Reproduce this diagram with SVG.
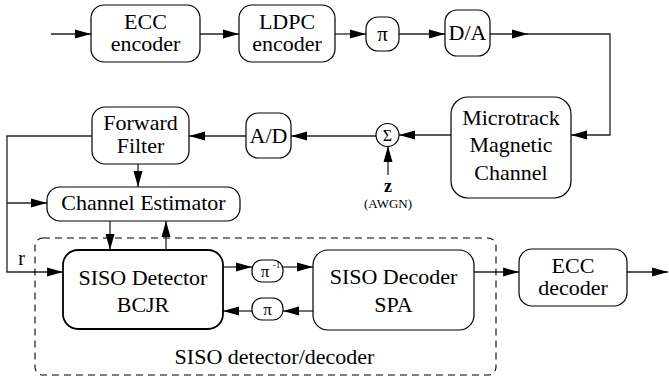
<svg xmlns="http://www.w3.org/2000/svg" width="669" height="379" viewBox="0 0 669 379">
<defs>
<marker id="ah" markerWidth="16" markerHeight="10" refX="16" refY="5" orient="auto" markerUnits="userSpaceOnUse">
<path d="M0,0.5 L16,5 L0,9.5 z" fill="#000"/>
</marker>
</defs>
<rect x="0" y="0" width="669" height="379" fill="#fff"/>
<g id="connectors" fill="none" stroke="#222" stroke-width="1.3">
<path d="M51,34 H91" marker-end="url(#ah)"/>
<path d="M200,34 H239" marker-end="url(#ah)"/>
<path d="M335,34 H366" marker-end="url(#ah)"/>
<path d="M399,34 H445" marker-end="url(#ah)"/>
<path d="M490,34 H528" marker-end="url(#ah)"/>
<path d="M527,34 H610 V135 H571" marker-end="url(#ah)"/>
<path d="M451,135 H399" marker-end="url(#ah)"/>
<path d="M388,175 V146" marker-end="url(#ah)"/>
<path d="M376,136 H291" marker-end="url(#ah)"/>
<path d="M246,136 H189" marker-end="url(#ah)"/>
<path d="M92,136 H7 V272 H63" marker-end="url(#ah)"/>
<path d="M7,203 H47" marker-end="url(#ah)"/>
<path d="M138,164 V187" marker-end="url(#ah)"/>
<path d="M110,221 V250" marker-end="url(#ah)"/>
<path d="M166,250 V221" marker-end="url(#ah)"/>
<path d="M223,267 H252" marker-end="url(#ah)"/>
<path d="M283,267 H313" marker-end="url(#ah)"/>
<path d="M313,311 H283" marker-end="url(#ah)"/>
<path d="M252,311 H223" marker-end="url(#ah)"/>
<path d="M474,272 H519" marker-end="url(#ah)"/>
<path d="M627,272 H668" marker-end="url(#ah)"/>
</g>
<g id="siso-group">
<rect x="35" y="238" width="461" height="137" rx="8" fill="none" stroke="#000" stroke-width="1.1" stroke-dasharray="7,5"/>
<text x="274.5" y="364" style="font-family:'Liberation Serif',serif;font-size:22px" text-anchor="middle">SISO detector/decoder</text>
</g>
<g id="ecc-encoder">
<rect x="91" y="5" width="109" height="57" rx="13" fill="#fff" stroke="#000" stroke-width="1.2"/>
<text x="145.5" y="28.5" style="font-family:'Liberation Serif',serif;font-size:22px" text-anchor="middle">ECC</text>
<text x="145.5" y="51" style="font-family:'Liberation Serif',serif;font-size:22px" text-anchor="middle">encoder</text>
</g>
<g id="ldpc-encoder">
<rect x="239" y="5" width="96" height="57" rx="13" fill="#fff" stroke="#000" stroke-width="1.2"/>
<text x="287" y="28.5" style="font-family:'Liberation Serif',serif;font-size:22px" text-anchor="middle">LDPC</text>
<text x="287" y="51" style="font-family:'Liberation Serif',serif;font-size:22px" text-anchor="middle">encoder</text>
</g>
<g id="interleaver-top">
<rect x="366" y="17" width="33" height="34" rx="12" fill="#fff" stroke="#000" stroke-width="1.2"/>
<text x="382.5" y="41" style="font-family:'Liberation Serif',serif;font-size:21px" text-anchor="middle">π</text>
</g>
<g id="da">
<rect x="445" y="10" width="45" height="46" rx="12" fill="#fff" stroke="#000" stroke-width="1.2"/>
<text x="467.5" y="40" style="font-family:'Liberation Serif',serif;font-size:22px" text-anchor="middle">D/A</text>
</g>
<g id="channel">
<rect x="451" y="97" width="120" height="101" rx="17" fill="#fff" stroke="#000" stroke-width="1.2"/>
<text x="511" y="125" style="font-family:'Liberation Serif',serif;font-size:22px" text-anchor="middle">Microtrack</text>
<text x="511" y="152" style="font-family:'Liberation Serif',serif;font-size:22px" text-anchor="middle">Magnetic</text>
<text x="511" y="180" style="font-family:'Liberation Serif',serif;font-size:22px" text-anchor="middle">Channel</text>
</g>
<g id="sum">
<circle cx="387.5" cy="135" r="11.5" fill="#fff" stroke="#000" stroke-width="1.2"/>
<text x="387.5" y="141" style="font-family:'Liberation Serif',serif;font-size:16px" text-anchor="middle">Σ</text>
</g>
<g id="noise">
<text x="388" y="192" style="font-family:'Liberation Serif',serif;font-size:18px;font-weight:bold" text-anchor="middle">z</text>
<text x="388" y="208" style="font-family:'Liberation Serif',serif;font-size:13px" text-anchor="middle">(AWGN)</text>
</g>
<g id="ad">
<rect x="246" y="113" width="45" height="45" rx="12" fill="#fff" stroke="#000" stroke-width="1.2"/>
<text x="268.5" y="143" style="font-family:'Liberation Serif',serif;font-size:22px" text-anchor="middle">A/D</text>
</g>
<g id="forward-filter">
<rect x="92" y="107" width="97" height="57" rx="13" fill="#fff" stroke="#000" stroke-width="1.2"/>
<text x="140.5" y="129.5" style="font-family:'Liberation Serif',serif;font-size:22px" text-anchor="middle">Forward</text>
<text x="140.5" y="152.5" style="font-family:'Liberation Serif',serif;font-size:22px" text-anchor="middle">Filter</text>
</g>
<g id="channel-estimator">
<rect x="47" y="187" width="193" height="34" rx="13" fill="#fff" stroke="#000" stroke-width="1.2"/>
<text x="143.5" y="210" style="font-family:'Liberation Serif',serif;font-size:22px" text-anchor="middle">Channel Estimator</text>
</g>
<g id="r-label">
<text x="21.5" y="265" style="font-family:'Liberation Serif',serif;font-size:20px" text-anchor="middle">r</text>
</g>
<g id="siso-detector">
<rect x="63" y="250" width="160" height="79" rx="15" fill="#fff" stroke="#000" stroke-width="1.8"/>
<text x="143" y="285" style="font-family:'Liberation Serif',serif;font-size:22px" text-anchor="middle">SISO Detector</text>
<text x="143" y="312" style="font-family:'Liberation Serif',serif;font-size:22px" text-anchor="middle">BCJR</text>
</g>
<g id="deinterleaver">
<rect x="252" y="260" width="31" height="22" rx="10" fill="#fff" stroke="#000" stroke-width="1.2"/>
<text x="265" y="277" style="font-family:'Liberation Serif',serif;font-size:17px" text-anchor="middle">π</text>
<text x="276.5" y="268" style="font-family:'Liberation Serif',serif;font-size:9px" text-anchor="middle">-1</text>
</g>
<g id="interleaver-bottom">
<rect x="252" y="298" width="31" height="22" rx="10" fill="#fff" stroke="#000" stroke-width="1.2"/>
<text x="267.5" y="315" style="font-family:'Liberation Serif',serif;font-size:17px" text-anchor="middle">π</text>
</g>
<g id="siso-decoder">
<rect x="313" y="250" width="161" height="80" rx="15" fill="#fff" stroke="#000" stroke-width="1.2"/>
<text x="393.5" y="284" style="font-family:'Liberation Serif',serif;font-size:22px" text-anchor="middle">SISO Decoder</text>
<text x="393.5" y="312" style="font-family:'Liberation Serif',serif;font-size:22px" text-anchor="middle">SPA</text>
</g>
<g id="ecc-decoder">
<rect x="519" y="249" width="108" height="57" rx="13" fill="#fff" stroke="#000" stroke-width="1.2"/>
<text x="573" y="272.5" style="font-family:'Liberation Serif',serif;font-size:22px" text-anchor="middle">ECC</text>
<text x="573" y="295" style="font-family:'Liberation Serif',serif;font-size:22px" text-anchor="middle">decoder</text>
</g>
</svg>
